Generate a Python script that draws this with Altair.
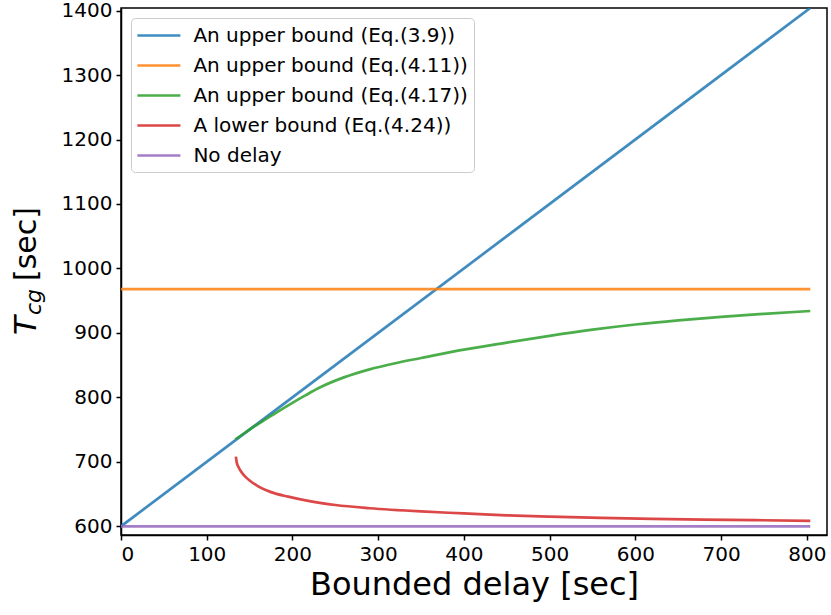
import altair as alt
import pandas as pd

# ---- data ----
labels = [
    "An upper bound (Eq.(3.9))",
    "An upper bound (Eq.(4.11))",
    "An upper bound (Eq.(4.17))",
    "A lower bound (Eq.(4.24))",
    "No delay",
]
colors = ["#1f77b4", "#ff7f0e", "#2ca02c", "#d62728", "#9467bd"]

blue_x = [0, 804]
blue_y = [600, 1404]

orange_x = [0, 804]
orange_y = [968, 968]

green_x = [133.5, 145, 155, 170, 185, 200, 215, 233, 260, 290, 320, 350, 400,
           450, 500, 550, 600, 650, 700, 750, 804]
green_y = [735, 745.5, 754.5, 767, 779.5, 791.5, 803, 816, 831, 843.5, 853, 861,
           874, 885, 895.5, 905, 913, 919.5, 925, 929.5, 934]

red_x = [134, 135, 137, 140, 145, 150, 160, 175, 195, 220, 250, 290, 350, 400,
         450, 500, 560, 620, 680, 740, 804]
red_y = [708, 699, 692, 685, 677, 671, 662, 653, 646, 639, 633, 628, 623, 620,
         617, 615, 613, 611.5, 610.5, 609.5, 608.5]

purple_x = [0, 804]
purple_y = [600, 600]

x_ticks = [0, 100, 200, 300, 400, 500, 600, 700, 800]
y_ticks = [600, 700, 800, 900, 1000, 1100, 1200, 1300, 1400]

series = [
    (labels[0], blue_x, blue_y),
    (labels[1], orange_x, orange_y),
    (labels[2], green_x, green_y),
    (labels[3], red_x, red_y),
    (labels[4], purple_x, purple_y),
]
rows = []
for k, (name, xs, ys) in enumerate(series):
    for i, (xv, yv) in enumerate(zip(xs, ys)):
        rows.append({"series": name, "x": xv, "y": yv, "i": i, "k": k})
df = pd.DataFrame(rows)

FONT = "DejaVu Sans"

lines = alt.Chart(df).mark_line(strokeWidth=2.7, opacity=0.85, clip=True,
                                interpolate="monotone").encode(
    x=alt.X("x:Q",
            scale=alt.Scale(domain=[0, 823.5], nice=False, zero=False),
            axis=alt.Axis(values=x_ticks, title="Bounded delay [sec]",
                          format="d")),
    y=alt.Y("y:Q",
            scale=alt.Scale(domain=[586.5, 1404], nice=False, zero=False),
            axis=alt.Axis(values=y_ticks, title="", format="d")),
    color=alt.Color("series:N",
                    scale=alt.Scale(domain=labels, range=colors),
                    legend=alt.Legend(title=None, orient="none",
                                      legendX=10, legendY=10)),
    detail="k:N",
    order="i:Q",
)

t_part = alt.Chart(pd.DataFrame({"t": ["T"]})).mark_text(
    angle=270, align="left", baseline="alphabetic", font=FONT,
    fontSize=31, fontStyle="italic", color="black"
).encode(text="t:N", x=alt.value(-85), y=alt.value(327))

sub_part = alt.Chart(pd.DataFrame({"t": ["cg"]})).mark_text(
    angle=270, align="left", baseline="alphabetic", font=FONT,
    fontSize=22, fontStyle="italic", color="black"
).encode(text="t:N", x=alt.value(-80), y=alt.value(307))

unit_part = alt.Chart(pd.DataFrame({"t": ["[sec]"]})).mark_text(
    angle=270, align="left", baseline="alphabetic", font=FONT,
    fontSize=30, color="black"
).encode(text="t:N", x=alt.value(-85), y=alt.value(273))

chart = alt.layer(lines, t_part, sub_part, unit_part).properties(
    width=706, height=527,
    padding={"left": 121, "top": 8, "right": 4, "bottom": 80},
    autosize=alt.AutoSizeParams(type="none"),
).configure_view(
    stroke="black", strokeWidth=1.5
).configure_axis(
    grid=False, labelFont=FONT, labelFontSize=20, labelColor="black",
    titleFont=FONT, titleFontSize=32, titleColor="black", titleFontWeight="normal",
    domainColor="black", domainWidth=1.5, tickColor="black", tickWidth=1.5,
    tickSize=5, labelPadding=4,
).configure_axisX(
    titlePadding=5
).configure_legend(
    labelFont=FONT, labelFontSize=20, labelColor="black",
    symbolType="M-2.2,0H2.2", symbolSize=382, symbolStrokeWidth=2.7,
    symbolOpacity=0.85, symbolOffset=10.4, labelOffset=23, rowPadding=8,
    padding=6,
    strokeColor="#cccccc", fillColor="rgba(255,255,255,0.8)", cornerRadius=4,
    labelLimit=400,
)

chart.save("out.html", embed_options={"renderer": "svg", "actions": False})
